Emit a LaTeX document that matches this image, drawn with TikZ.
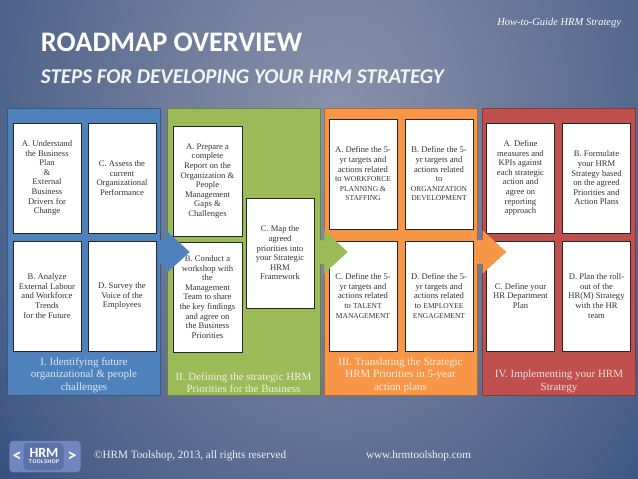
\documentclass[tikz,border=0pt]{standalone}
\usepackage{fontspec}
\setmainfont{Liberation Serif}
\newfontfamily\titlefont{Carlito}
\usetikzlibrary{positioning,shapes.arrows}
\definecolor{bgzero}{HTML}{8A93AC}
\definecolor{bgone}{HTML}{727F9C}
\definecolor{bgtwo}{HTML}{4A6088}
\definecolor{bgthree}{HTML}{1F3F70}
\definecolor{panelblue}{HTML}{4F81BD}
\definecolor{panelgreen}{HTML}{9BBB59}
\definecolor{panelorange}{HTML}{F79646}
\definecolor{panelred}{HTML}{C0504D}
\definecolor{logoouter}{HTML}{7086BE}
\definecolor{logoinner}{HTML}{5A72A8}
\pgfdeclareradialshading{roadbg}{\pgfpointorigin}{color(0bp)=(bgzero); color(10bp)=(bgone); color(24bp)=(bgtwo); color(34bp)=(bgthree); color(60bp)=(bgthree)}
\newcommand{\upc}[1]{{\fontsize{7.5}{9.6}\selectfont #1}}
\begin{document}
\begin{tikzpicture}[x=1pt, y=-1pt, node distance=8pt and 7pt, >=stealth,
  every node/.style={outer sep=0pt},
  panel/.style={draw=#1!70!black, line width=0.6pt, fill=#1, minimum width=153pt, minimum height=287pt},
  stepbox/.style={draw=black!85, line width=1pt, fill=white, align=center, inner sep=0pt, minimum width=68pt, minimum height=110pt, text=black!80, font=\fontsize{8.6}{9.6}\selectfont},
  paneltext/.style={align=center, inner sep=0pt, text=white!82!#1, font=\fontsize{11}{12.8}\selectfont},
  flow/.style={single arrow, fill=#1, draw=#1, inner xsep=0pt, inner ysep=11.5pt, minimum height=30pt, single arrow head extend=9.5pt, single arrow tip angle=85},
  foot/.style={inner sep=0pt, text=white!90!panelblue, font=\fontsize{11.2}{13}\selectfont}]
\useasboundingbox (0,0) rectangle (638,479);
\begin{scope}
\clip (0,0) rectangle (638,479);
\shade[shading=roadbg] (-40,-360) rectangle (710,620);
\end{scope}
\node[anchor=west, inner sep=0pt, text=white, font=\titlefont\bfseries\fontsize{28.3}{30}\selectfont] (title) at (41,42) {ROADMAP OVERVIEW};
\node[anchor=west, inner sep=0pt, text=white!92!panelblue, font=\titlefont\bfseries\itshape\fontsize{21}{23}\selectfont] (subtitle) at (41,77) {STEPS FOR DEVELOPING YOUR HRM STRATEGY};
\node[anchor=east, inner sep=0pt, text=white, font=\itshape\fontsize{10.5}{12}\selectfont] (guide) at (621,23) {How-to-Guide HRM Strategy};
\node[panel=panelblue] (blue) at (84,251.5) {};
\node[panel=panelgreen] (green) at (243.5,251.5) {};
\node[panel=panelorange] (orange) at (400.5,251.5) {};
\node[panel=panelred] (red) at (559,251.5) {};
\node[stepbox] (blueA) at (47,178) {A. Understand\\the Business\\Plan\\\&\\External\\Business\\Drivers for\\Change};
\node[stepbox, right=of blueA] (blueC) {C. Assess the\\current\\Organizational\\Performance};
\node[stepbox, below=of blueA] (blueB) {B. Analyze\\External Labour\\and Workforce\\Trends\\for the Future};
\node[stepbox, below=of blueC] (blueD) {D. Survey the\\Voice of the\\Employees};
\node[paneltext=panelblue, above=2pt of blue.south] (bluelabel) {I. Identifying future\\organizational \& people\\challenges};
\node[stepbox, minimum width=69pt] (greenA) at (207.5,181) {A. Prepare a\\complete\\Report on the\\Organization \&\\People\\Management\\Gaps \&\\Challenges};
\node[stepbox, minimum width=69pt, below=6pt of greenA] (greenB) {B. Conduct a\\workshop with\\the\\Management\\Team to share\\the key findings\\and agree on\\the Business\\Priorities};
\node[stepbox] (greenC) at (280,253) {C. Map the\\agreed\\priorities into\\your Strategic\\HRM\\Framework};
\node[paneltext=panelgreen, above=2pt of green.south] (greenlabel) {II. Defining the strategic HRM\\Priorities for the Business};
\node[stepbox] (orangeA) at (363,174) {A. Define the 5-\\yr targets and\\actions related\\to \upc{WORKFORCE}\\\upc{PLANNING \&}\\\upc{STAFFING}};
\node[stepbox, right=8pt of orangeA] (orangeB) {B. Define the 5-\\yr targets and\\actions related\\to\\\upc{ORGANIZATION}\\\upc{DEVELOPMENT}};
\node[stepbox, below=12pt of orangeA] (orangeC) {C. Define the 5-\\yr targets and\\actions related\\to \upc{TALENT}\\\upc{MANAGEMENT}};
\node[stepbox, below=12pt of orangeB] (orangeD) {D. Define the 5-\\yr targets and\\actions related\\to \upc{EMPLOYEE}\\\upc{ENGAGEMENT}};
\node[paneltext=panelorange, above=2pt of orange.south] (orangelabel) {III. Translating the Strategic\\HRM Priorities in 5-year\\action plans};
\node[stepbox] (redA) at (520.5,178) {A. Define\\measures and\\KPIs against\\each strategic\\action and\\agree on\\reporting\\approach};
\node[stepbox, right=8pt of redA] (redB) {B. Formulate\\your HRM\\Strategy based\\on the agreed\\Priorities and\\Action Plans};
\node[stepbox, below=of redA] (redC) {C. Define your\\HR Department\\Plan};
\node[stepbox, below=of redB] (redD) {D. Plan the roll-\\out of the\\HR(M) Strategy\\with the HR\\team};
\node[paneltext=panelred, above=2pt of red.south] (redlabel) {IV. Implementing your HRM\\Strategy};
\node[flow=panelblue] (flowblue) at (168,252) {};
\node[flow=panelgreen] (flowgreen) at (326,252) {};
\node[flow=panelorange] (floworange) at (484.5,252) {};
\node[draw=logoouter, rounded corners=4pt, fill=logoouter, minimum width=71pt, minimum height=31pt] (logo) at (45,456.5) {};
\node[rounded corners=4pt, fill=logoinner, minimum width=40pt, minimum height=27pt, right=14pt of logo.west] (logoin) {};
\node[inner sep=0pt, text=white, font=\titlefont\bfseries\fontsize{14}{14}\selectfont] (logoname) at (44,453) {HRM};
\node[below=2.5pt of logoname, inner sep=0pt, text=white, font=\sffamily\bfseries\fontsize{5.4}{5.4}\selectfont] (logosub) {TOOLSHOP};
\node[inner sep=0pt, text=white, font=\titlefont\bfseries\fontsize{18}{18}\selectfont] (logoleft) at (17,457) {<};
\node[inner sep=0pt, text=white, font=\titlefont\bfseries\fontsize{18}{18}\selectfont] (logoright) at (72,457) {>};
\node[foot, anchor=west] (copy) at (94,455.5) {©HRM Toolshop, 2013, all rights reserved};
\node[foot, anchor=west] (web) at (366,456) {www.hrmtoolshop.com};
\end{tikzpicture}
\end{document}
